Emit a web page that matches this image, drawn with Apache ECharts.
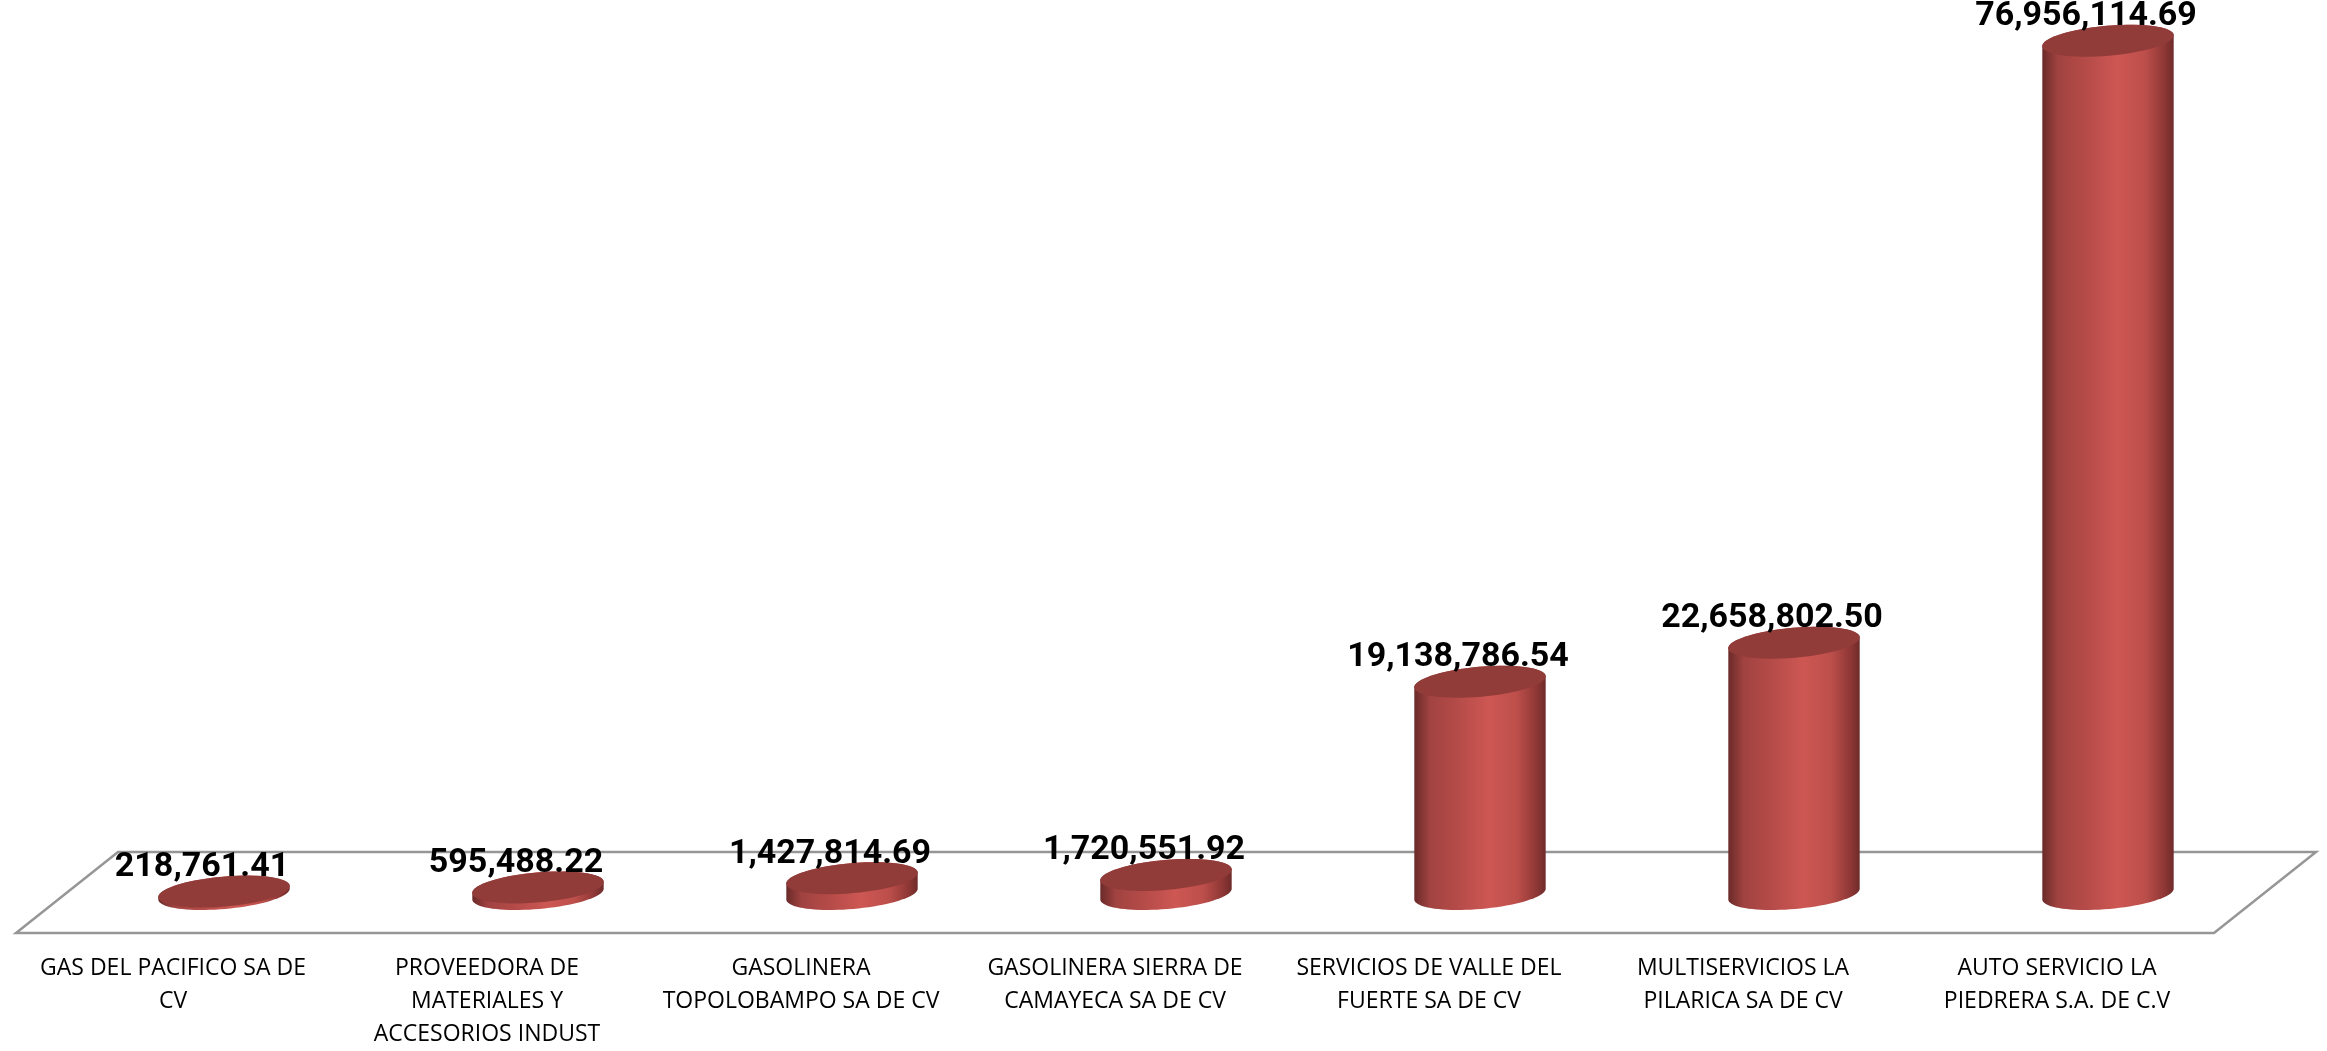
<!DOCTYPE html>
<html>
<head>
<meta charset="utf-8">
<script src="https://cdn.jsdelivr.net/npm/echarts@6/dist/echarts.min.js"></script>
<style>
html,body{margin:0;padding:0;background:#fff;}
#chart{width:2327px;height:1051px;}
</style>
</head>
<body>
<div id="chart"></div>
<script>
const categories = [
  'GAS DEL PACIFICO SA DE\nCV',
  'PROVEEDORA DE\nMATERIALES Y\nACCESORIOS INDUST',
  'GASOLINERA\nTOPOLOBAMPO SA DE CV',
  'GASOLINERA SIERRA DE\nCAMAYECA SA DE CV',
  'SERVICIOS DE VALLE DEL\nFUERTE SA DE CV',
  'MULTISERVICIOS LA\nPILARICA SA DE CV',
  'AUTO SERVICIO LA\nPIEDRERA S.A. DE C.V'
];
const values = [218761.41, 595488.22, 1427814.69, 1720551.92, 19138786.54, 22658802.50, 76956114.69];

function fmt(v) {
  const p = v.toFixed(2).split('.');
  return p[0].replace(/\B(?=(\d{3})+(?!\d))/g, ',') + '.' + p[1];
}

const chart = echarts.init(document.getElementById('chart'));

const DX = 51, DY_BACK = 42, DY_FRONT = 39;
const ROT = -5 * Math.PI / 180;

function ellipsePt(cx, cy, rx, ry, t) {
  const ex = rx * Math.cos(t), ey = ry * Math.sin(t);
  return [cx + ex * Math.cos(ROT) - ey * Math.sin(ROT), cy + ex * Math.sin(ROT) + ey * Math.cos(ROT)];
}
function ellipsePts(cx, cy, rx, ry, t0, t1, n) {
  const pts = [];
  for (let k = 0; k <= n; k++) pts.push(ellipsePt(cx, cy, rx, ry, t0 + (t1 - t0) * k / n));
  return pts;
}

const bodyGrad = new echarts.graphic.LinearGradient(0, 0, 1, 0, [
  {offset: 0, color: '#6a2a29'},
  {offset: 0.12, color: '#a14341'},
  {offset: 0.35, color: '#b74c49'},
  {offset: 0.57, color: '#cd5753'},
  {offset: 0.78, color: '#bd4f4b'},
  {offset: 0.93, color: '#8e3735'},
  {offset: 1, color: '#6e2b2a'}
]);

const option = {
  animation: false,
  grid: {left: 67, right: 62, top: 7, bottom: 152},
  xAxis: {
    type: 'category',
    data: categories,
    axisLine: {show: false},
    axisTick: {show: false},
    axisLabel: {
      interval: 0,
      margin: 58,
      color: '#000',
      fontFamily: 'Open Sans, sans-serif',
      fontSize: 23,
      lineHeight: 33,
      align: 'center',
      padding: [0, 2 * DX, 0, 0]
    }
  },
  yAxis: {
    type: 'value',
    min: 0,
    max: 80000000,
    show: false,
    splitLine: {show: false}
  },
  series: [
    {
      type: 'custom',
      z: 1,
      data: [[0, 0]],
      renderItem: function (params, api) {
        const cs = params.coordSys;
        const y0 = api.coord([0, 0])[1];
        const x0 = cs.x, x1 = cs.x + cs.width;
        return {
          type: 'polygon',
          shape: {points: [
            [x0 + DX, y0 - DY_BACK], [x1 + DX, y0 - DY_BACK],
            [x1 - DX, y0 + DY_FRONT], [x0 - DX, y0 + DY_FRONT]
          ]},
          style: {fill: '#ffffff', stroke: '#969696', lineWidth: 2.5}
        };
      }
    },
    {
      type: 'custom',
      z: 2,
      encode: {x: 0, y: 1},
      data: values.map(function (v, i) { return [i, v]; }),
      renderItem: function (params, api) {
        const i = api.value(0);
        const v = api.value(1);
        const base = api.coord([i, 0]);
        const top = api.coord([i, v]);
        const cx = base[0];
        const by = base[1], ty = top[1];
        const rx = api.size([1, 0])[0] * 0.21;
        const ry = 15;
        const front = [ellipsePt(cx, ty, rx, ry, Math.PI)]
          .concat(ellipsePts(cx, by, rx, ry, Math.PI, 0, 40))
          .concat([ellipsePt(cx, ty, rx, ry, 0)])
          .concat(ellipsePts(cx, ty, rx, ry, 0, -Math.PI, 40));
        const topPts = ellipsePts(cx, ty, rx, ry, 0, 2 * Math.PI, 60);
        return {
          type: 'group',
          children: [
            {
              type: 'polygon',
              shape: {points: front},
              style: {fill: bodyGrad}
            },
            {
              type: 'polygon',
              shape: {points: topPts},
              style: {fill: '#923c3a'}
            },
            {
              type: 'text',
              z2: 10,
              style: {
                x: cx - 22,
                y: ty - 7,
                text: fmt(v),
                align: 'center',
                verticalAlign: 'bottom',
                fill: '#000',
                font: 'bold 34px Roboto, sans-serif'
              }
            }
          ]
        };
      }
    }
  ]
};
chart.setOption(option);
</script>
</body>
</html>
